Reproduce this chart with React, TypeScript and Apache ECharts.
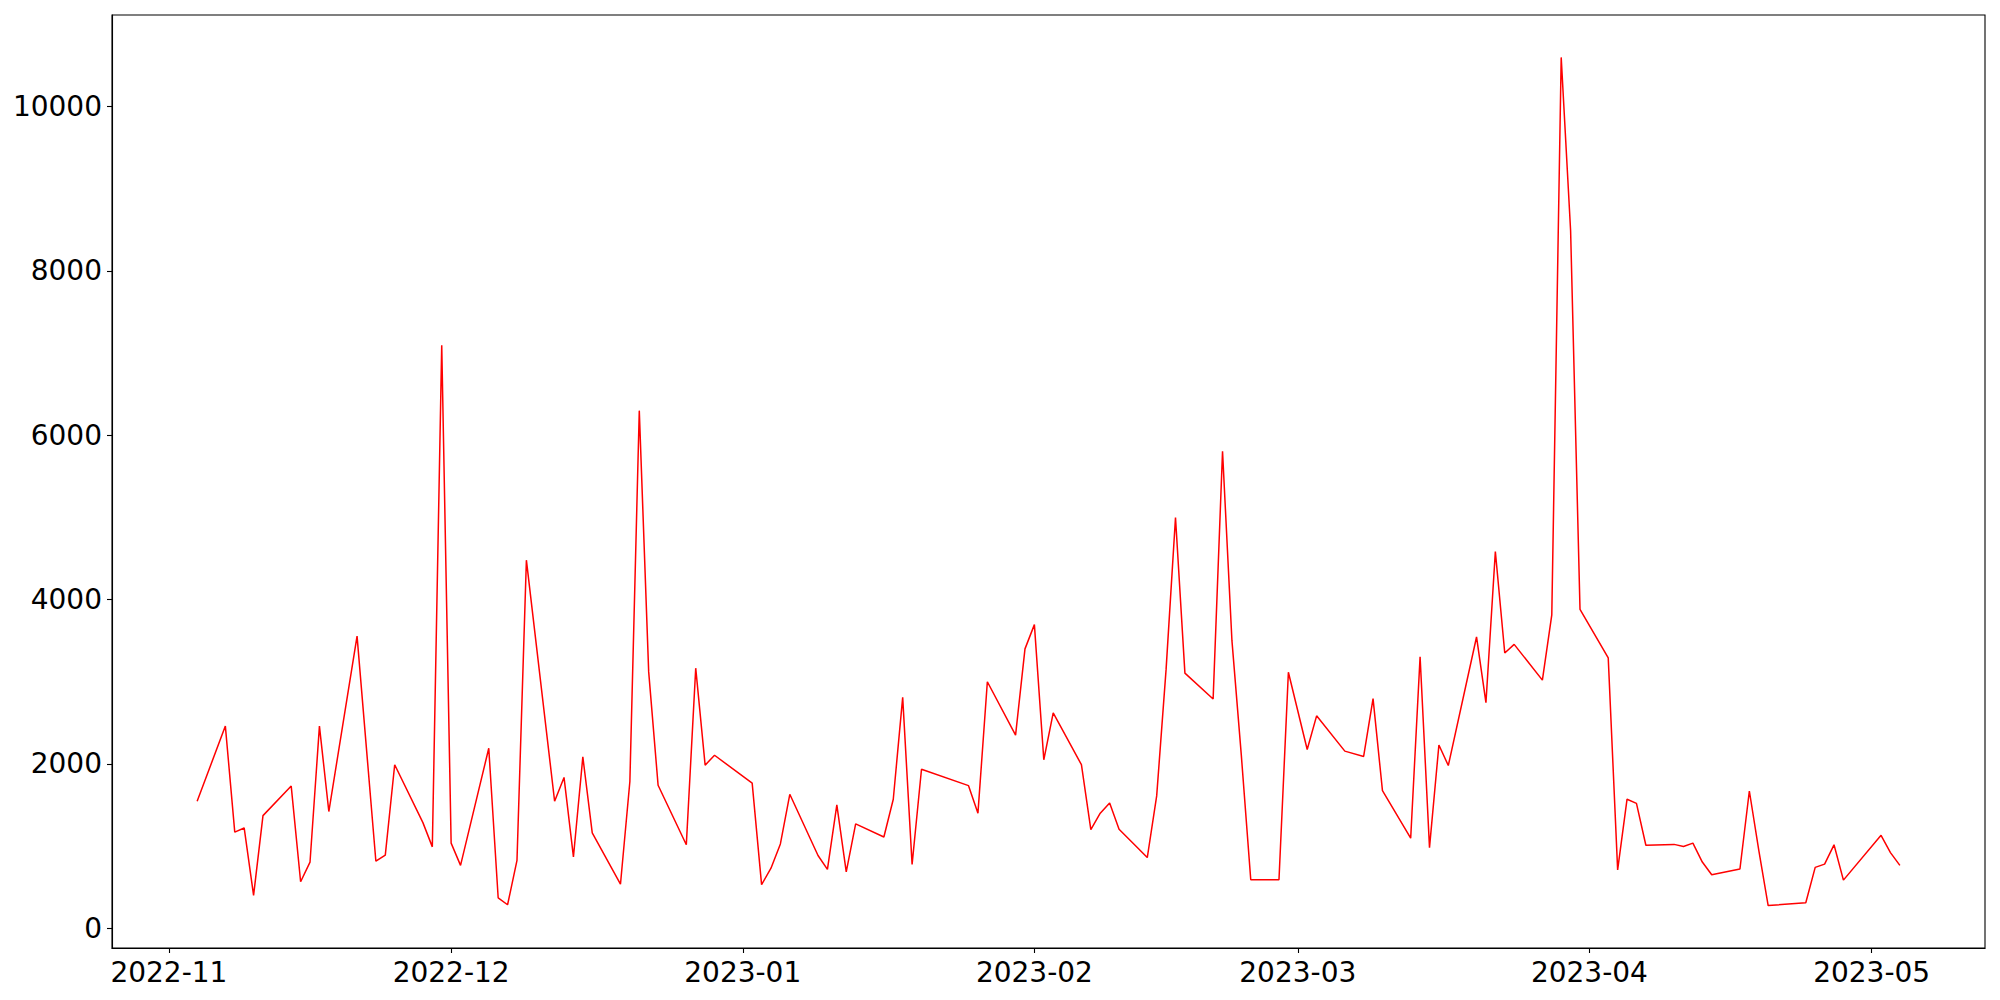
import React, { useEffect, useRef } from "react";
import * as echarts from "echarts";

const dates: string[] = [
  "2022-11-04", "2022-11-07", "2022-11-08", "2022-11-09", "2022-11-10", "2022-11-11",
  "2022-11-14", "2022-11-15", "2022-11-16", "2022-11-17", "2022-11-18", "2022-11-21",
  "2022-11-23", "2022-11-24", "2022-11-25", "2022-11-28", "2022-11-29", "2022-11-30",
  "2022-12-01", "2022-12-02", "2022-12-05", "2022-12-06", "2022-12-07", "2022-12-08",
  "2022-12-09", "2022-12-12", "2022-12-13", "2022-12-14", "2022-12-15", "2022-12-16",
  "2022-12-19", "2022-12-20", "2022-12-21", "2022-12-22", "2022-12-23", "2022-12-26",
  "2022-12-27", "2022-12-28", "2022-12-29", "2023-01-02", "2023-01-03", "2023-01-04",
  "2023-01-05", "2023-01-06", "2023-01-09", "2023-01-10", "2023-01-11", "2023-01-12",
  "2023-01-13", "2023-01-16", "2023-01-17", "2023-01-18", "2023-01-19", "2023-01-20",
  "2023-01-25", "2023-01-26", "2023-01-27", "2023-01-30", "2023-01-31", "2023-02-01",
  "2023-02-02", "2023-02-03", "2023-02-06", "2023-02-07", "2023-02-08", "2023-02-09",
  "2023-02-10", "2023-02-13", "2023-02-14", "2023-02-15", "2023-02-16", "2023-02-17",
  "2023-02-20", "2023-02-21", "2023-02-22", "2023-02-23", "2023-02-24", "2023-02-27",
  "2023-02-28", "2023-03-02", "2023-03-03", "2023-03-06", "2023-03-08", "2023-03-09",
  "2023-03-10", "2023-03-13", "2023-03-14", "2023-03-15", "2023-03-16", "2023-03-17",
  "2023-03-20", "2023-03-21", "2023-03-22", "2023-03-23", "2023-03-24", "2023-03-27",
  "2023-03-28", "2023-03-29", "2023-03-30", "2023-03-31", "2023-04-03", "2023-04-04",
  "2023-04-05", "2023-04-06", "2023-04-07", "2023-04-10", "2023-04-11", "2023-04-12",
  "2023-04-13", "2023-04-14", "2023-04-17", "2023-04-18", "2023-04-19", "2023-04-20",
  "2023-04-24", "2023-04-25", "2023-04-26", "2023-04-27", "2023-04-28", "2023-05-02",
  "2023-05-03", "2023-05-04",
];

const values: number[] = [
  1545, 2460, 1170, 1220, 400, 1370,
  1730, 565, 805, 2460, 1420, 3555,
  815, 890, 1990, 1285, 990, 7095,
  1035, 765, 2190, 370, 285, 825,
  4480, 1545, 1835, 867, 2085, 1160,
  535, 1785, 6300, 3120, 1740, 1015,
  3165, 1985, 2105, 1765, 530, 730,
  1025, 1630, 885, 715, 1500, 685,
  1270, 1110, 1570, 2810, 775, 1935,
  1735, 1400, 3000, 2350, 3400, 3695,
  2050, 2620, 1990, 1200, 1400, 1525,
  1205, 860, 1610, 3150, 5000, 3105,
  2790, 5805, 3500, 2100, 590, 590,
  3115, 2175, 2585, 2155, 2090, 2795,
  1675, 1095, 3305, 980, 2230, 1980,
  3545, 2745, 4585, 3350, 3455, 3020,
  3815, 10600, 8490, 3880, 3290, 710,
  1570, 1520, 1010, 1020, 995, 1035,
  805, 650, 720, 1670, 950, 275,
  310, 740, 780, 1015, 585, 1130,
  920, 765,
];

const monthTicks: string[] = [
  "2022-11-01", "2022-12-01", "2023-01-01", "2023-02-01",
  "2023-03-01", "2023-04-01", "2023-05-01",
];

const yTicks: number[] = [0, 2000, 4000, 6000, 8000, 10000];

const toMs = (s: string) => {
  const [y, m, d] = s.split("-").map(Number);
  return Date.UTC(y, m - 1, d);
};

const pad2 = (n: number) => (n < 10 ? "0" + n : "" + n);

export default function App() {
  const ref = useRef<HTMLDivElement>(null);

  useEffect(() => {
    if (!ref.current) return;
    const chart = echarts.init(ref.current, undefined, { renderer: "svg" });

    const xs = dates.map(toMs);
    const x0 = xs[0];
    const x1 = xs[xs.length - 1];
    const xm = (x1 - x0) * 0.05;
    const vMin = Math.min(...values);
    const vMax = Math.max(...values);
    const ym = (vMax - vMin) * 0.05;

    const font = "DejaVu Sans";
    const fs = 28;
    const tickX = monthTicks.map(toMs);

    chart.setOption({
      animation: false,
      backgroundColor: "#ffffff",
      grid: {
        left: 112,
        right: 15,
        top: 15,
        bottom: 52,
        show: true,
        borderColor: "#000000",
        borderWidth: 1.1,
        backgroundColor: "transparent",
        containLabel: false,
        outerBoundsMode: "none",
      },
      xAxis: {
        type: "value",
        min: x0 - xm,
        max: x1 + xm,
        scale: true,
        splitLine: { show: false },
        minorTick: { show: false },
        axisLine: { show: true, onZero: false, lineStyle: { color: "#000", width: 1.1 } },
        axisTick: {
          show: true,
          inside: false,
          length: 5,
          lineStyle: { color: "#000", width: 1.1 },
          customValues: tickX,
        },
        axisLabel: {
          show: true,
          margin: 10,
          color: "#000",
          fontFamily: font,
          fontSize: fs,
          hideOverlap: false,
          customValues: tickX,
          formatter: (v: number) => {
            const d = new Date(v);
            return d.getUTCFullYear() + "-" + pad2(d.getUTCMonth() + 1);
          },
        },
      },
      yAxis: {
        type: "value",
        min: vMin - ym,
        max: vMax + ym,
        splitLine: { show: false },
        axisLine: { show: true, onZero: false, lineStyle: { color: "#000", width: 1.1 } },
        axisTick: {
          show: true,
          inside: false,
          length: 5,
          lineStyle: { color: "#000", width: 1.1 },
          customValues: yTicks,
        },
        axisLabel: {
          show: true,
          margin: 10,
          color: "#000",
          fontFamily: font,
          fontSize: fs,
          customValues: yTicks,
          formatter: (v: number) => String(Math.round(v)),
        },
      },
      series: [
        {
          type: "line",
          data: xs.map((x, i) => [x, values[i]]),
          showSymbol: false,
          symbol: "none",
          lineStyle: { color: "#ff0000", width: 1.5 },
          itemStyle: { color: "#ff0000" },
        },
      ],
    });

    return () => chart.dispose();
  }, []);

  return (
    <div
      ref={ref}
      style={{ position: "fixed", left: 0, top: 0, width: 2000, height: 1000, background: "#fff" }}
    />
  );
}
